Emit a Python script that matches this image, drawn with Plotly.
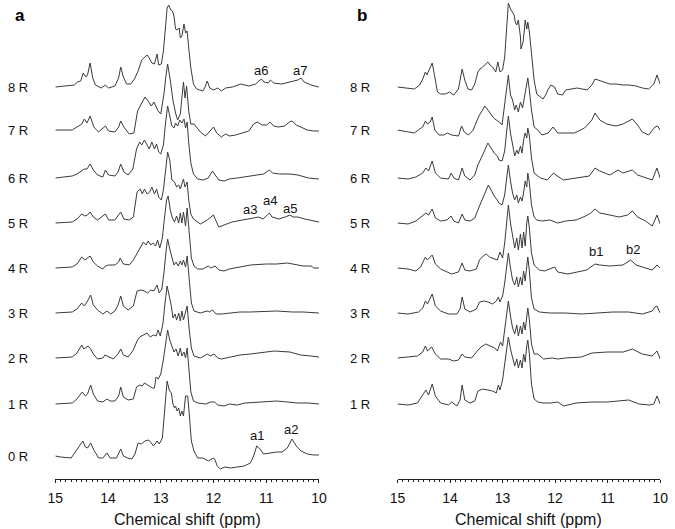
import plotly.graph_objects as go

# ---------------- data ----------------
tick_ppm = [15, 14, 13, 12, 11, 10]
tick_text = ["15", "14", "13", "12", "11", "10"]
row_labels = ["0 R", "1 R", "2 R", "3 R", "4 R", "5 R", "6 R", "7 R", "8 R"]

# spectra as (ppm, intensity) vertices
A0 = [(15.0,0),(14.90,-1),(14.70,-2),(14.61,5),(14.52,12),(14.48,15),(14.43,9),(14.39,8),(14.33,13),(14.27,6),(14.18,-2),(14.10,-2),(14.02,3),(13.96,-2),(13.84,-2),(13.81,2),(13.76,7),(13.71,0),(13.63,-2),(13.55,-3),(13.49,2),(13.43,13),(13.37,12),(13.30,15),(13.23,16),(13.18,13),(13.14,10),(13.07,15),(13.03,12),(12.97,18),(12.93,45),(12.88,75),(12.84,66),(12.80,63),(12.77,52),(12.74,48),(12.72,50),(12.69,45),(12.66,48),(12.63,40),(12.60,45),(12.57,40),(12.53,60),(12.49,60),(12.46,42),(12.42,15),(12.37,5),(12.30,-2),(12.20,-2),(12.10,-5),(12.00,-2),(11.97,-4),(11.93,-10),(11.87,-13),(11.78,-11),(11.68,-12),(11.55,-11),(11.42,-10),(11.30,-7),(11.24,0),(11.18,10),(11.12,7),(11.05,2),(10.93,3),(10.80,4),(10.70,4),(10.60,8),(10.51,17),(10.43,10),(10.34,5),(10.22,2),(10.10,1),(10.0,1)]
A1 = [(15.0,0),(14.68,1),(14.59,5),(14.49,12),(14.43,8),(14.39,10),(14.33,19),(14.28,10),(14.20,3),(14.10,2),(14.02,5),(13.96,3),(13.87,3),(13.80,8),(13.76,17),(13.71,7),(13.62,4),(13.52,5),(13.46,17),(13.40,19),(13.35,18),(13.31,21),(13.25,19),(13.16,16),(13.12,16),(13.09,27),(13.05,25),(13.00,30),(12.95,45),(12.91,62),(12.87,74),(12.83,64),(12.79,58),(12.75,52),(12.71,55),(12.67,48),(12.63,56),(12.60,48),(12.56,52),(12.53,46),(12.50,56),(12.47,35),(12.43,12),(12.38,3),(12.30,1),(12.15,0),(12.05,2),(11.98,2),(11.92,-1),(11.80,-2),(11.70,0),(11.55,-1),(11.40,1),(11.10,2),(10.80,3),(10.60,2),(10.40,1),(10.20,1),(10.0,0)]
A2 = [(15.0,0),(14.68,1),(14.59,5),(14.50,13),(14.46,9),(14.42,11),(14.38,12),(14.33,9),(14.28,4),(14.20,-1),(14.10,0),(14.06,3),(13.99,1),(13.90,-1),(13.81,4),(13.76,9),(13.71,3),(13.62,1),(13.52,8),(13.45,17),(13.40,21),(13.33,23),(13.26,25),(13.20,21),(13.14,23),(13.09,22),(13.05,28),(13.01,22),(12.96,34),(12.92,55),(12.88,72),(12.84,62),(12.80,52),(12.77,40),(12.73,44),(12.70,38),(12.66,45),(12.63,37),(12.60,47),(12.57,38),(12.53,48),(12.50,52),(12.46,28),(12.42,10),(12.37,2),(12.25,0),(12.12,4),(12.06,2),(11.99,4),(11.92,0),(11.85,-1),(11.70,1),(11.50,3),(11.30,4),(11.10,5),(10.85,7),(10.55,6),(10.35,3),(10.15,2),(10.0,1)]
A3 = [(15.0,0),(14.68,1),(14.59,4),(14.50,10),(14.45,7),(14.40,11),(14.33,18),(14.28,8),(14.20,3),(14.10,-1),(14.02,2),(13.95,-1),(13.87,2),(13.81,8),(13.76,17),(13.71,7),(13.62,3),(13.52,7),(13.45,22),(13.38,23),(13.31,22),(13.25,20),(13.19,23),(13.13,22),(13.07,28),(13.03,20),(12.98,24),(12.94,40),(12.90,62),(12.87,74),(12.83,64),(12.79,55),(12.75,48),(12.71,51),(12.67,47),(12.63,52),(12.60,48),(12.57,53),(12.53,46),(12.50,57),(12.46,30),(12.42,10),(12.37,2),(12.25,0),(12.12,2),(12.08,1),(12.02,3),(11.95,-1),(11.85,-1),(11.70,0),(11.50,1),(11.30,1),(11.00,2),(10.80,2),(10.50,1),(10.30,1),(10.0,0)]
A4 = [(15.0,0),(14.68,1),(14.59,4),(14.50,11),(14.44,8),(14.39,10),(14.34,12),(14.28,6),(14.20,2),(14.10,-1),(14.05,2),(13.99,3),(13.87,3),(13.80,6),(13.77,10),(13.71,4),(13.60,3),(13.52,8),(13.46,14),(13.40,20),(13.33,26),(13.28,23),(13.24,27),(13.19,23),(13.15,25),(13.10,22),(13.06,28),(13.02,20),(12.97,30),(12.93,50),(12.89,68),(12.86,72),(12.82,58),(12.78,50),(12.74,46),(12.70,52),(12.66,45),(12.63,55),(12.60,45),(12.57,56),(12.53,42),(12.50,60),(12.46,30),(12.42,10),(12.37,2),(12.30,-1),(12.20,-1),(12.10,2),(12.05,0),(11.97,2),(11.90,-2),(11.80,-3),(11.70,-1),(11.50,1),(11.30,3),(11.00,4),(10.80,4),(10.60,5),(10.50,4),(10.30,2),(10.15,2),(10.10,0),(10.0,0)]
A5 = [(15.0,0),(14.68,1),(14.59,4),(14.50,9),(14.44,7),(14.39,8),(14.34,11),(14.28,6),(14.20,3),(14.05,9),(13.99,3),(13.87,3),(13.76,11),(13.70,4),(13.60,3),(13.52,6),(13.45,31),(13.39,34),(13.35,29),(13.31,34),(13.26,29),(13.21,31),(13.17,36),(13.12,29),(13.08,34),(13.04,26),(12.99,23),(12.95,33),(12.91,52),(12.87,71),(12.83,63),(12.79,43),(12.74,41),(12.70,36),(12.66,38),(12.63,34),(12.60,39),(12.57,44),(12.54,36),(12.50,41),(12.47,23),(12.43,9),(12.38,4),(12.25,-1),(12.12,3),(12.00,8),(11.96,3),(11.90,-4),(11.80,-2),(11.65,1),(11.45,3),(11.30,4),(11.24,5),(11.15,6),(11.06,4),(10.98,8),(10.94,10),(10.89,6),(10.76,4),(10.64,6),(10.55,8),(10.49,6),(10.40,6),(10.27,4),(10.15,3),(10.0,1)]
A6 = [(15.0,0),(14.68,2),(14.59,4),(14.49,8),(14.45,9),(14.40,9),(14.34,14),(14.28,8),(14.20,3),(14.10,1),(14.05,8),(13.99,3),(13.87,2),(13.81,6),(13.76,14),(13.70,6),(13.62,3),(13.53,9),(13.46,29),(13.40,36),(13.36,33),(13.31,38),(13.26,33),(13.22,29),(13.17,36),(13.12,29),(13.08,34),(13.04,26),(13.00,24),(12.95,33),(12.91,55),(12.87,72),(12.83,62),(12.79,52),(12.75,50),(12.72,55),(12.68,52),(12.64,58),(12.60,55),(12.56,59),(12.53,50),(12.50,56),(12.47,35),(12.43,15),(12.38,4),(12.30,-1),(12.20,-2),(12.10,0),(12.02,7),(11.97,3),(11.90,-2),(11.80,-3),(11.70,-1),(11.55,0),(11.40,1),(11.20,3),(11.05,4),(10.94,8),(10.88,5),(10.75,4),(10.55,4),(10.40,3),(10.20,0),(10.0,-1)]
A7 = [(15.0,0),(14.68,0),(14.59,3),(14.50,6),(14.45,11),(14.40,7),(14.34,14),(14.27,3),(14.18,-2),(14.05,4),(13.99,-1),(13.87,-2),(13.80,3),(13.76,9),(13.70,3),(13.60,-4),(13.51,-3),(13.44,19),(13.37,26),(13.30,33),(13.24,29),(13.18,24),(13.13,28),(13.09,23),(13.05,19),(13.00,16),(12.94,36),(12.90,55),(12.87,66),(12.82,50),(12.77,30),(12.72,17),(12.68,10),(12.63,16),(12.60,33),(12.57,48),(12.54,32),(12.51,44),(12.47,19),(12.43,6),(12.37,6),(12.25,-2),(12.15,-6),(12.00,3),(11.94,-3),(11.85,-7),(11.77,-4),(11.70,-6),(11.58,-5),(11.45,-3),(11.33,-1),(11.24,6),(11.17,8),(11.08,5),(10.99,5),(10.93,8),(10.86,4),(10.77,3),(10.65,4),(10.56,8),(10.51,9),(10.43,5),(10.34,3),(10.22,0),(10.10,-1),(10.0,-1)]
A8 = [(15.0,0),(14.73,1),(14.64,2),(14.58,5),(14.52,6),(14.47,14),(14.42,10),(14.39,12),(14.34,24),(14.29,9),(14.24,2),(14.13,-1),(14.05,2),(13.99,-1),(13.87,1),(13.80,9),(13.76,20),(13.71,10),(13.65,3),(13.57,3),(13.50,8),(13.43,16),(13.36,27),(13.30,30),(13.26,32),(13.22,29),(13.17,24),(13.12,23),(13.07,33),(13.04,22),(12.99,23),(12.95,36),(12.91,59),(12.88,79),(12.85,82),(12.81,77),(12.78,76),(12.75,71),(12.72,58),(12.69,57),(12.65,59),(12.63,49),(12.60,51),(12.56,63),(12.53,54),(12.50,56),(12.47,39),(12.43,19),(12.38,3),(12.32,-2),(12.20,-4),(12.16,0),(12.12,6),(12.07,-1),(12.00,-3),(11.92,-1),(11.85,-4),(11.77,-1),(11.64,0),(11.48,3),(11.33,1),(11.20,3),(11.14,6),(11.09,8),(11.04,5),(10.96,4),(10.92,7),(10.86,4),(10.71,3),(10.52,5),(10.40,7),(10.34,9),(10.28,5),(10.15,2),(10.0,0)]

B1 = [(15.0,0),(14.80,-1),(14.62,1),(14.56,6),(14.46,14),(14.41,9),(14.34,20),(14.28,8),(14.18,1),(14.03,-1),(13.97,2),(13.87,-2),(13.81,4),(13.77,19),(13.72,4),(13.62,1),(13.53,3),(13.47,13),(13.38,15),(13.28,14),(13.19,13),(13.12,11),(13.08,19),(13.05,14),(13.00,24),(12.96,40),(12.92,58),(12.89,67),(12.85,55),(12.81,45),(12.77,38),(12.73,45),(12.70,36),(12.66,44),(12.63,36),(12.60,50),(12.57,42),(12.54,58),(12.52,64),(12.49,50),(12.45,20),(12.40,5),(12.33,2),(12.23,1),(12.08,1),(11.95,2),(11.84,-2),(11.60,1),(11.30,2),(11.00,2),(10.75,3),(10.60,4),(10.40,0),(10.20,-1),(10.12,0),(10.06,8),(10.0,0)]
B2 = [(15.0,0),(14.80,1),(14.62,2),(14.52,6),(14.47,12),(14.43,7),(14.35,11),(14.28,4),(14.18,-1),(14.03,-1),(13.93,-3),(13.84,-2),(13.77,4),(13.72,1),(13.59,0),(13.50,6),(13.41,11),(13.32,14),(13.24,12),(13.15,10),(13.10,7),(13.04,16),(13.00,12),(12.96,28),(12.92,45),(12.89,57),(12.85,42),(12.81,30),(12.77,24),(12.73,33),(12.70,22),(12.66,32),(12.63,24),(12.60,36),(12.57,28),(12.54,42),(12.52,50),(12.49,38),(12.45,14),(12.40,4),(12.33,4),(12.22,-1),(12.05,0),(11.95,-1),(11.80,0),(11.50,1),(11.30,5),(11.00,6),(10.70,6),(10.53,9),(10.34,4),(10.15,2),(10.06,7),(10.0,-1)]
B3 = [(15.0,0),(14.80,-1),(14.60,1),(14.52,5),(14.47,12),(14.43,9),(14.34,19),(14.28,7),(14.18,2),(14.03,-1),(13.87,-1),(13.81,4),(13.77,16),(13.72,4),(13.62,1),(13.50,4),(13.44,11),(13.35,12),(13.28,11),(13.19,9),(13.12,12),(13.08,16),(13.05,11),(13.00,17),(12.96,30),(12.92,48),(12.89,60),(12.85,45),(12.81,33),(12.77,28),(12.73,36),(12.70,26),(12.66,36),(12.63,28),(12.60,42),(12.57,32),(12.54,48),(12.52,56),(12.49,42),(12.45,15),(12.40,4),(12.30,1),(12.10,0),(11.80,0),(11.50,-1),(11.20,0),(10.90,1),(10.60,1),(10.34,-1),(10.15,2),(10.10,6),(10.06,7),(10.0,0)]
B4 = [(15.0,0),(14.80,-1),(14.65,-3),(14.56,1),(14.47,11),(14.43,8),(14.34,13),(14.28,4),(14.18,-1),(14.03,-4),(13.97,-6),(13.84,-4),(13.77,5),(13.72,-2),(13.62,-3),(13.50,-1),(13.44,8),(13.37,12),(13.31,14),(13.25,11),(13.16,9),(13.10,8),(13.05,16),(13.00,10),(12.96,25),(12.92,50),(12.89,63),(12.85,45),(12.81,30),(12.77,20),(12.73,30),(12.70,18),(12.66,34),(12.63,20),(12.60,36),(12.57,22),(12.54,45),(12.52,52),(12.49,40),(12.45,15),(12.40,3),(12.30,-2),(12.20,-3),(12.01,1),(11.95,-4),(11.76,-6),(11.58,-4),(11.40,-2),(11.24,4),(11.15,3),(10.96,2),(10.71,3),(10.56,8),(10.46,3),(10.28,0),(10.15,-2),(10.06,3),(10.0,0)]
B5 = [(15.0,0),(14.80,-1),(14.65,2),(14.52,7),(14.46,10),(14.41,8),(14.34,14),(14.28,5),(14.18,2),(14.06,3),(13.98,7),(13.93,2),(13.84,0),(13.77,9),(13.72,3),(13.62,2),(13.53,5),(13.44,17),(13.35,28),(13.27,38),(13.22,33),(13.16,27),(13.10,23),(13.07,20),(13.01,18),(12.96,28),(12.92,46),(12.89,58),(12.85,42),(12.81,30),(12.77,23),(12.73,28),(12.70,20),(12.66,26),(12.63,22),(12.60,30),(12.57,42),(12.54,36),(12.52,50),(12.49,40),(12.45,18),(12.40,6),(12.35,3),(12.25,2),(12.10,3),(11.95,0),(11.80,2),(11.60,3),(11.42,7),(11.32,10),(11.24,14),(11.15,10),(10.96,8),(10.78,6),(10.62,8),(10.53,12),(10.43,6),(10.28,2),(10.15,-3),(10.06,8),(10.0,-1)]
B6 = [(15.0,0),(14.80,-1),(14.65,1),(14.52,5),(14.46,10),(14.41,7),(14.34,17),(14.28,5),(14.18,0),(14.03,-1),(13.98,5),(13.93,0),(13.84,-2),(13.77,10),(13.72,2),(13.62,-2),(13.53,3),(13.47,13),(13.38,23),(13.28,35),(13.22,30),(13.16,25),(13.10,22),(13.07,18),(13.01,17),(12.96,27),(12.92,48),(12.89,62),(12.85,45),(12.81,33),(12.77,22),(12.73,28),(12.70,24),(12.66,32),(12.63,25),(12.60,38),(12.57,45),(12.54,40),(12.52,50),(12.49,42),(12.45,20),(12.40,5),(12.35,3),(12.28,0),(12.15,-2),(12.03,5),(11.96,2),(11.84,-2),(11.60,0),(11.35,2),(11.24,10),(11.15,7),(10.96,3),(10.80,8),(10.71,5),(10.53,8),(10.43,3),(10.28,0),(10.15,-2),(10.06,10),(10.0,0)]
B7 = [(15.0,0),(14.80,-2),(14.68,-3),(14.58,1),(14.52,3),(14.47,9),(14.43,6),(14.38,8),(14.34,13),(14.29,0),(14.21,-5),(14.12,-5),(14.05,-3),(13.97,-5),(13.84,-6),(13.78,4),(13.73,-2),(13.65,-5),(13.56,0),(13.50,8),(13.44,15),(13.38,20),(13.34,24),(13.28,20),(13.22,16),(13.17,12),(13.12,10),(13.06,8),(13.01,5),(12.97,20),(12.93,40),(12.89,55),(12.85,35),(12.81,30),(12.77,20),(12.74,25),(12.70,18),(12.66,28),(12.62,22),(12.58,35),(12.55,45),(12.52,52),(12.49,40),(12.45,20),(12.40,3),(12.33,0),(12.25,-5),(12.13,-3),(12.04,3),(11.95,-3),(11.63,-3),(11.44,2),(11.30,10),(11.24,17),(11.15,10),(11.02,6),(10.84,4),(10.71,6),(10.60,9),(10.53,11),(10.43,5),(10.34,-2),(10.22,-5),(10.10,3),(10.05,4),(10.0,0)]
B8 = [(15.0,0),(14.86,-1),(14.68,-2),(14.58,2),(14.52,8),(14.47,15),(14.44,12),(14.40,17),(14.34,24),(14.29,10),(14.24,-5),(14.18,-7),(14.09,-7),(14.01,-5),(13.93,-8),(13.84,-2),(13.81,7),(13.77,18),(13.72,7),(13.66,-2),(13.59,-3),(13.53,3),(13.47,15),(13.43,18),(13.38,20),(13.33,23),(13.28,25),(13.24,22),(13.19,20),(13.13,15),(13.09,25),(13.05,15),(13.00,17),(12.96,30),(12.92,67),(12.89,84),(12.85,78),(12.82,75),(12.78,72),(12.76,65),(12.73,62),(12.70,67),(12.66,50),(12.65,38),(12.61,45),(12.58,60),(12.57,67),(12.54,58),(12.52,65),(12.49,55),(12.45,33),(12.40,7),(12.35,-7),(12.29,-10),(12.23,-12),(12.17,-7),(12.14,-3),(12.08,2),(12.01,0),(11.95,-7),(11.86,-8),(11.80,-3),(11.70,-2),(11.58,-1),(11.39,-3),(11.30,2),(11.24,8),(11.18,7),(11.08,5),(10.96,3),(10.84,3),(10.71,2),(10.59,2),(10.46,1),(10.34,-1),(10.22,-2),(10.12,3),(10.06,12),(10.0,3)]

# peak annotations: text, ppm, row index, height above that row's baseline, panel
peak_text = ["a1", "a2", "a3", "a4", "a5", "a6", "a7", "b1", "b2"]
peak_ppm = [11.17, 10.53, 11.30, 10.93, 10.55, 11.10, 10.36, 11.23, 10.51]
peak_row = [0, 0, 5, 5, 5, 8, 8, 4, 4]
peak_rise = [21, 27, 14, 23, 15, 17, 17, 17, 19]
peak_panel = ["a", "a", "a", "a", "a", "a", "a", "b", "b"]

# ---------------- figure ----------------
W, H = 675, 529
AXIS_PX = 479                                          # pixel row of the x-axis line
ROW_PX = [456, 404, 358, 313, 268, 223, 178, 130, 87]  # pixel row of each trace baseline
FONT = "Liberation Sans, Arial, Helvetica, sans-serif"
LINE = "#3a3a3a"

row_offset = [AXIS_PX - p for p in ROW_PX]

panel_a = [A0, A1, A2, A3, A4, A5, A6, A7, A8]
panel_b = [None, B1, B2, B3, B4, B5, B6, B7, B8]

fig = go.Figure()
for panel, xa, ya in ((panel_a, "x", "y"), (panel_b, "x2", "y2")):
    for k, spec in enumerate(panel):
        if spec is None:
            continue
        fig.add_trace(go.Scatter(
            x=[p for p, _ in spec],
            y=[h + row_offset[k] for _, h in spec],
            mode="lines", line=dict(color=LINE, width=1),
            xaxis=xa, yaxis=ya, showlegend=False, hoverinfo="skip"))

xa_dom = [48.5 / W, 318.5 / W]
xb_dom = [399.0 / W, 668.0 / W]
y_dom = [(H - AXIS_PX) / H, 1.0]

axis_common = dict(
    range=[15, 10], showgrid=False, zeroline=False,
    showline=True, linecolor="#222", linewidth=1,
    ticks="outside", ticklen=3, tickwidth=1, tickcolor="#222",
    tickvals=tick_ppm, ticktext=tick_text,
    tickfont=dict(family=FONT, size=14, color="#111"),
    ticklabelstandoff=3,
    minor=dict(ticks="outside", dtick=0.1, ticklen=2, tickcolor="#222", tickwidth=1, showgrid=False),
)
yax = dict(range=[0, AXIS_PX], domain=y_dom, visible=False, fixedrange=True)

annotations = []
for k, lab in enumerate(row_labels):
    annotations.append(dict(text=lab, xref="paper", yref="y", x=10.5 / W, y=row_offset[k],
                            xanchor="center", yanchor="middle", showarrow=False,
                            font=dict(family=FONT, size=13, color="#111")))
    if panel_b[k] is not None:
        annotations.append(dict(text=lab, xref="paper", yref="y2", x=361 / W, y=row_offset[k],
                                xanchor="center", yanchor="middle", showarrow=False,
                                font=dict(family=FONT, size=13, color="#111")))
annotations.append(dict(text="<b>a</b>", xref="paper", yref="paper", x=12.5 / W, y=1 - 16 / H,
                        xanchor="center", yanchor="middle", showarrow=False,
                        font=dict(family=FONT, size=17, color="#000")))
annotations.append(dict(text="<b>b</b>", xref="paper", yref="paper", x=363 / W, y=1 - 15 / H,
                        xanchor="center", yanchor="middle", showarrow=False,
                        font=dict(family=FONT, size=17, color="#000")))
for dom in (xa_dom, xb_dom):
    annotations.append(dict(text="Chemical shift (ppm)", xref="paper", yref="paper",
                            x=(dom[0] + dom[1]) / 2, y=(H - 519) / H,
                            xanchor="center", yanchor="middle", showarrow=False,
                            font=dict(family=FONT, size=16, color="#111")))
for t, p, r, rise, pn in zip(peak_text, peak_ppm, peak_row, peak_rise, peak_panel):
    annotations.append(dict(text=t, xref="x" if pn == "a" else "x2", yref="y" if pn == "a" else "y2",
                            x=p, y=row_offset[r] + rise, xanchor="center", yanchor="middle",
                            showarrow=False, font=dict(family=FONT, size=13, color="#111")))

fig.update_layout(
    width=W, height=H, margin=dict(l=0, r=0, t=0, b=0),
    paper_bgcolor="white", plot_bgcolor="white",
    xaxis=dict(domain=xa_dom, anchor="y", **axis_common),
    xaxis2=dict(domain=xb_dom, anchor="y2", **axis_common),
    yaxis=dict(anchor="x", **yax),
    yaxis2=dict(anchor="x2", **yax),
    annotations=annotations,
)

# remove the browser's default 8px body margin so the figure sits at (0, 0); hide the mode bar
fig.write_html("out.html",
               config={"displayModeBar": False, "staticPlot": True},
               post_script="document.body.style.margin='0';document.body.style.overflow='hidden';")
